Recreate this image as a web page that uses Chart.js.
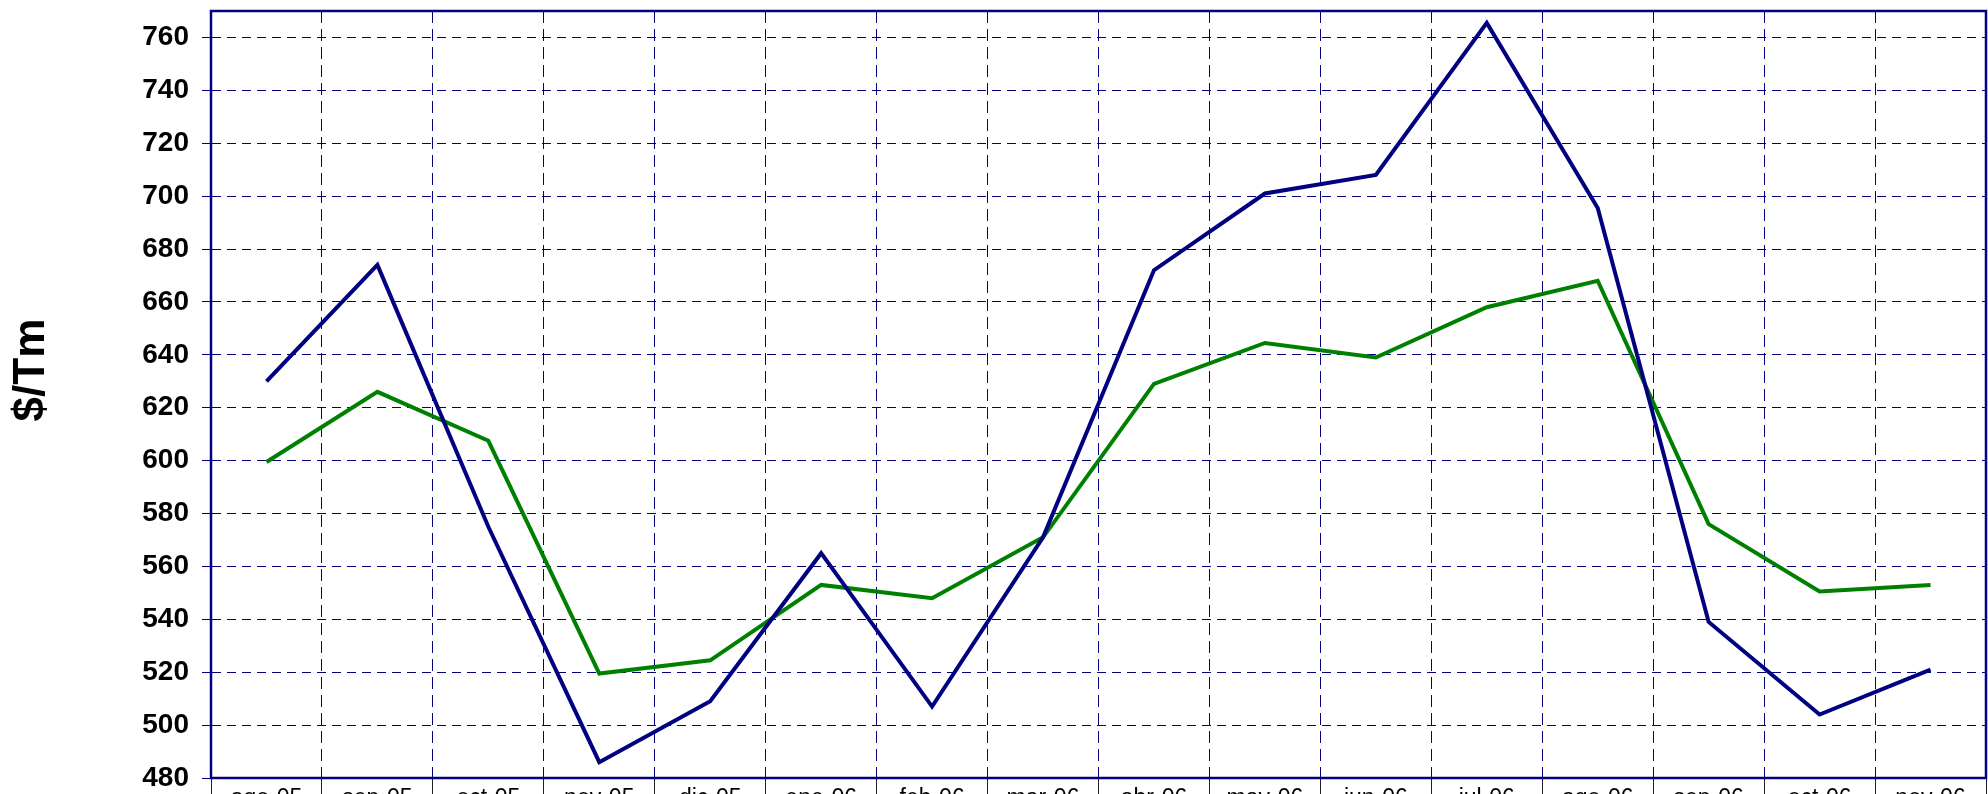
<!DOCTYPE html>
<html>
<head>
<meta charset="utf-8">
<script src="https://cdn.jsdelivr.net/npm/chart.js@4.4.1/dist/chart.umd.min.js"></script>
<style>
  html, body { margin: 0; padding: 0; background: #fff; }
  #precios { display: block; }
</style>
</head>
<body>
<canvas id="precios" width="1988" height="794"></canvas>
<script>
const meses = ["ago-05", "sep-05", "oct-05", "nov-05", "dic-05", "ene-06", "feb-06", "mar-06",
  "abr-06", "may-06", "jun-06", "jul-06", "ago-06", "sep-06", "oct-06", "nov-06"];
const serieAzul = [630, 674, 575, 486, 509, 565, 507, 571, 672, 701, 708, 765.5, 695.5, 539, 504, 521];
const serieVerde = [599.5, 626, 607.5, 519.5, 524.5, 553, 548, 571, 629, 644.5, 639, 658, 668, 576, 550.5, 553];
const ejeY = { min: 480, max: 770, paso: 20 };

const AZUL = "#000080";
const VERDE = "#008000";
const FUENTE = "'Liberation Sans', Arial, sans-serif";

// marco completo del area de trazado
const marco = {
  id: "marco",
  afterDraw(chart) {
    const a = chart.chartArea;
    const ctx = chart.ctx;
    ctx.save();
    ctx.strokeStyle = AZUL;
    ctx.lineWidth = 2.5;
    ctx.strokeRect(a.left, a.top, a.right - a.left, a.bottom - a.top);
    ctx.restore();
  }
};

new Chart(document.getElementById("precios").getContext("2d"), {
  type: "line",
  data: {
    labels: meses,
    datasets: [
      { data: serieAzul, borderColor: AZUL, borderWidth: 4, pointRadius: 0, tension: 0, fill: false },
      { data: serieVerde, borderColor: VERDE, borderWidth: 4, pointRadius: 0, tension: 0, fill: false }
    ]
  },
  options: {
    responsive: false,
    devicePixelRatio: 1,
    animation: false,
    layout: { padding: { left: 0, top: 11, right: 2, bottom: 0 } },
    plugins: { legend: { display: false }, tooltip: { enabled: false } },
    scales: {
      x: {
        offset: true,
        grid: {
          offset: true,
          color: AZUL,
          lineWidth: 1,
          tickLength: 16,
          tickColor: "#222",
          tickBorderDash: [],
          tickWidth: 1
        },
        border: { color: AZUL, width: 2, dash: [12, 6] },
        ticks: {
          color: "#000",
          padding: -9,
          maxRotation: 0,
          autoSkip: false,
          font: { family: FUENTE, size: 23 }
        },
        afterFit(scale) {
          scale.height = 16;
          scale.paddingLeft = 0;
          scale.paddingRight = 0;
        }
      },
      y: {
        min: ejeY.min,
        max: ejeY.max,
        grid: {
          color: AZUL,
          lineWidth: 1,
          tickLength: 9,
          tickColor: AZUL,
          tickBorderDash: []
        },
        border: { color: AZUL, width: 2, dash: [9, 6] },
        ticks: {
          stepSize: ejeY.paso,
          includeBounds: false,
          color: "#000",
          padding: 13,
          font: { family: FUENTE, size: 28, weight: "bold" }
        },
        title: {
          display: true,
          text: "    $/Tm",
          color: "#000",
          padding: { top: 10, bottom: 0 },
          font: { family: FUENTE, size: 44, weight: "bold", lineHeight: 1 }
        },
        afterFit(scale) {
          scale.width = 211;
          scale.paddingTop = 0;
          scale.paddingBottom = 0;
        }
      }
    }
  },
  plugins: [marco]
});
</script>
</body>
</html>
